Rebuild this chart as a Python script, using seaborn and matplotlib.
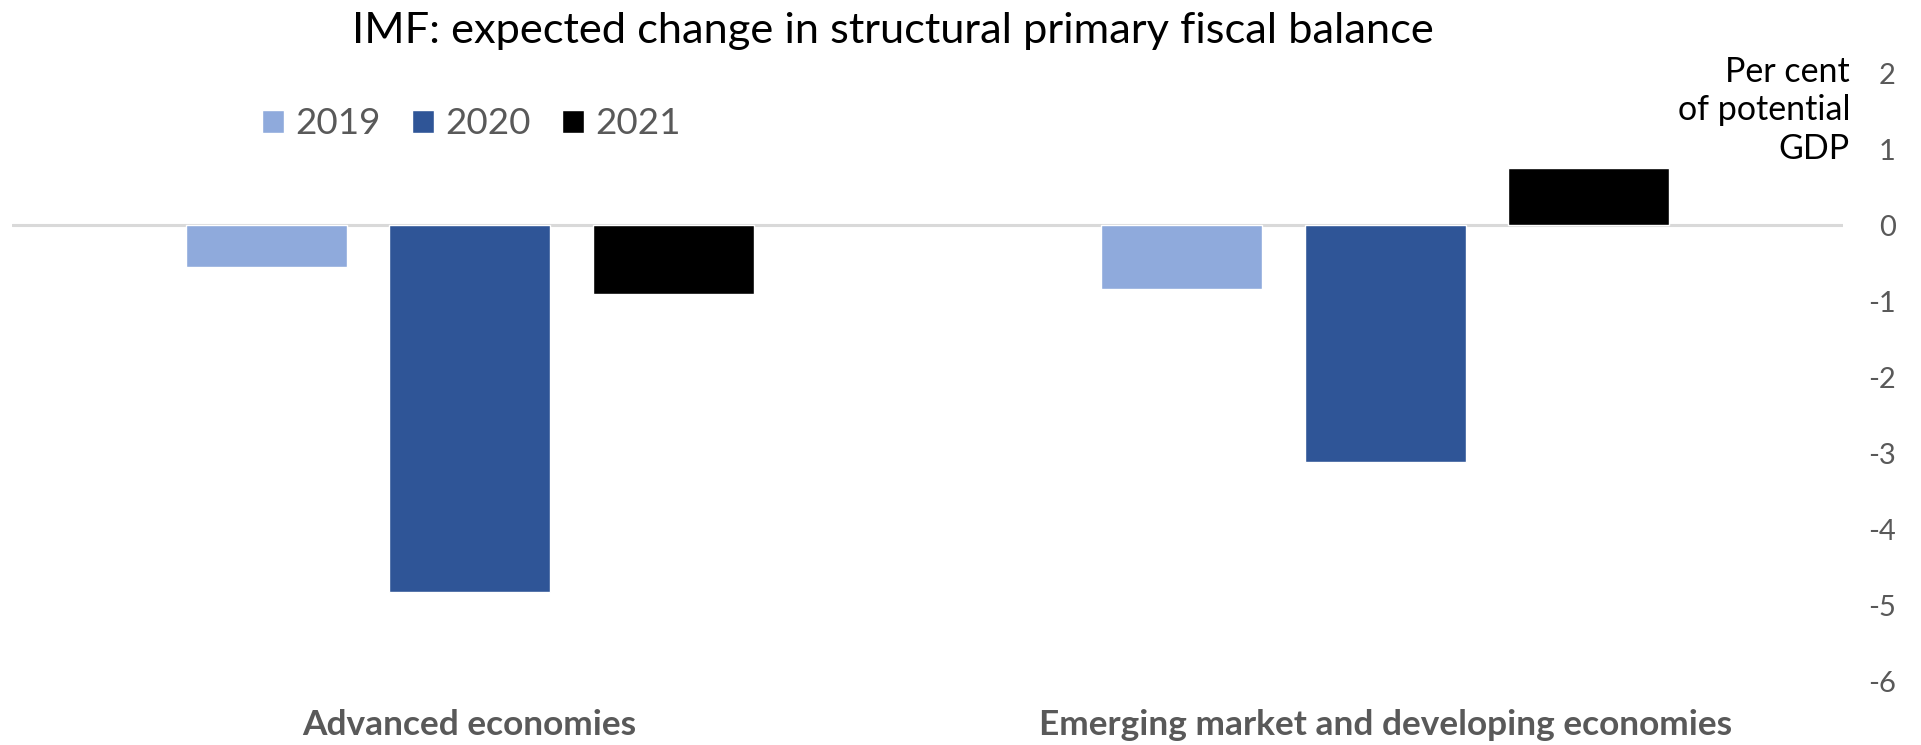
import matplotlib
matplotlib.use("Agg")
import matplotlib.pyplot as plt
import seaborn as sns
import pandas as pd

regions = ["Advanced economies", "Emerging market and developing economies"]
years = ["2019", "2020", "2021"]
values_2019 = [-0.55, -0.84]
values_2020 = [-4.83, -3.12]
values_2021 = [-0.91, 0.76]
yticks = [2, 1, 0, -1, -2, -3, -4, -5, -6]
colors = ["#8FAADC", "#2F5597", "#000000"]

rows = []
for yr, vals in zip(years, [values_2019, values_2020, values_2021]):
    for r, v in zip(regions, vals):
        rows.append({"region": r, "year": yr, "value": v})
df = pd.DataFrame(rows)

sns.set_theme(style="white")
plt.rcParams["font.family"] = ["Lato", "DejaVu Sans"]

W, H = 1921, 745
fig = plt.figure(figsize=(W / 100, H / 100), dpi=100)
ax = fig.add_axes([12 / W, 1 - 681 / H, (1843 - 12) / W, (681 - 73.5) / H])

ax.axhline(0, color="#D9D9D9", lw=2.2, zorder=0)
sns.barplot(data=df, x="region", y="value", hue="year", hue_order=years,
            palette=colors, saturation=1, width=0.667, gap=0.21,
            errorbar=None, ax=ax, zorder=2)

ax.set_ylim(-6, 2)
ax.set_xlim(-0.5, 1.5)
ax.set_yticks(yticks)
ax.set_yticklabels([str(t) for t in yticks])
ax.yaxis.tick_right()
for lab in ax.get_yticklabels():
    lab.set_horizontalalignment("right")
ax.tick_params(axis="y", length=0, pad=38, labelsize=21, labelcolor="#595959")
ax.tick_params(axis="x", length=0, pad=20, labelsize=25.4, labelcolor="#595959")
for lab in ax.get_xticklabels():
    lab.set_fontweight("bold")
ax.set_xlabel("")
ax.set_ylabel("")
for s in ax.spines.values():
    s.set_visible(False)

leg = ax.legend(loc="center left", bbox_to_anchor=(262 / W, 1 - 124 / H),
                bbox_transform=fig.transFigure, ncol=3, frameon=False,
                fontsize=26.5, handlelength=0.6, handleheight=0.6,
                handletextpad=0.3, columnspacing=0.85, borderpad=0, borderaxespad=0)
for t in leg.get_texts():
    t.set_color("#595959")

fig.text(893 / W, 1 - 31 / H, "IMF: expected change in structural primary fiscal balance",
         ha="center", va="center", fontsize=31.2, color="#000000")
fig.text(1850 / W, 1 - 56 / H, "Per cent\nof potential\nGDP", ha="right", va="top",
         multialignment="right", fontsize=24.5, color="#000000", linespacing=1.25)

fig.savefig("out.png", dpi=100)
